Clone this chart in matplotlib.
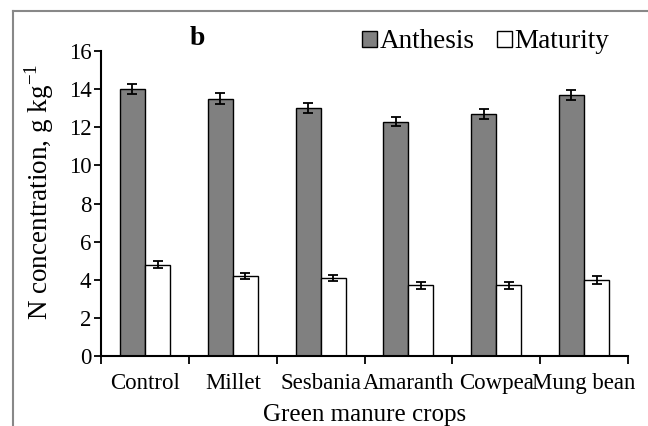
import numpy as np
import matplotlib.pyplot as plt
from matplotlib.lines import Line2D
from matplotlib.patches import Patch

crops = ["Control", "Millet", "Sesbania", "Amaranth", "Cowpea", "Mung bean"]
anthesis = [14.0, 13.5, 13.0, 12.3, 12.7, 13.7]
anthesis_err = [0.28, 0.3, 0.25, 0.25, 0.25, 0.27]
maturity = [4.8, 4.2, 4.1, 3.7, 3.7, 4.0]
maturity_err = [0.2, 0.17, 0.17, 0.2, 0.2, 0.2]

plt.rcParams['font.family'] = ['Liberation Serif', 'DejaVu Serif']
plt.rcParams['mathtext.fontset'] = 'custom'
plt.rcParams['mathtext.rm'] = 'Liberation Serif'

fig = plt.figure(figsize=(6.48, 4.26), dpi=100)
ax = fig.add_axes([0.156, 0.1643, 0.813, 0.716])

x = np.arange(len(crops))
w = 0.285
ax.bar(x - w/2, anthesis, w, color='#808080', edgecolor='black', linewidth=1)
ax.bar(x + w/2, maturity, w, color='white', edgecolor='black', linewidth=1)
ax.errorbar(x - w/2, anthesis, yerr=anthesis_err, fmt='none', ecolor='black',
            elinewidth=1.3, capsize=3.6, capthick=1.3)
ax.errorbar(x + w/2, maturity, yerr=maturity_err, fmt='none', ecolor='black',
            elinewidth=1.3, capsize=3.6, capthick=1.3)

ax.set_xlim(-0.5, 5.5)
ax.set_ylim(0, 16)
ax.set_yticks(range(0, 17, 2))
ax.set_xticks(x)
ax.set_xticklabels(crops)
ax.set_xticks(np.arange(-0.5, 6, 1), minor=True)
ax.tick_params(axis='x', which='major', length=0, labelsize=16.5, pad=12)
ax.tick_params(axis='x', which='minor', length=6, width=1.3, direction='out')
ax.tick_params(axis='y', length=5, width=1.3, direction='out', labelsize=16.5, pad=2)
for s in ['top', 'right']:
    ax.spines[s].set_visible(False)
for s in ['left', 'bottom']:
    ax.spines[s].set_linewidth(1.5)

ax.set_xlabel("Green manure crops", fontsize=18)
ax.xaxis.set_label_coords(0.5, -0.157)
ax.set_ylabel("N concentration, g kg$^{-1}$", fontsize=19.5)
ax.yaxis.set_label_coords(-0.085, 0.54)

ax.text(0.182, 1.04, "b", transform=ax.transAxes, fontsize=20, fontweight='bold',
        ha='center', va='center')

handles = [Patch(facecolor='#808080', edgecolor='black', linewidth=1),
           Patch(facecolor='white', edgecolor='black', linewidth=1)]
ax.legend(handles, ["Anthesis", "Maturity"], ncol=2, frameon=False,
          fontsize=19.5, loc='center right', bbox_to_anchor=(0.985, 1.03),
          handlelength=0.55, handleheight=0.55, handletextpad=0.1,
          columnspacing=0.8, borderaxespad=0)

# outer frame (cut off at right and bottom)
fig.add_artist(Line2D([13/648, 13/648], [0, 1 - 11/426], color='#888888', lw=1.5))
fig.add_artist(Line2D([13/648, 1], [1 - 11/426, 1 - 11/426], color='#888888', lw=1.5))

fig.savefig("out.png", dpi=100)
